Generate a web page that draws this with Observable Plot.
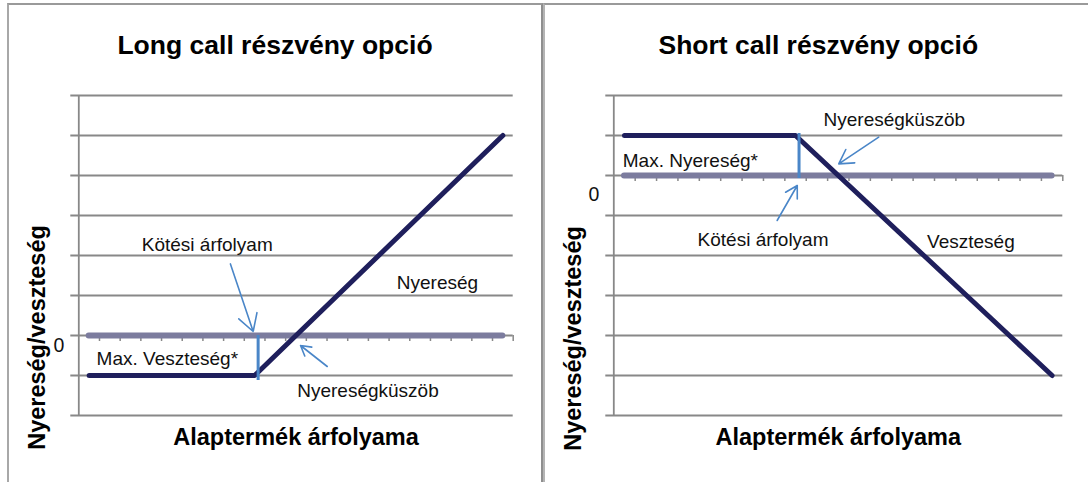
<!DOCTYPE html>
<html>
<head>
<meta charset="utf-8">
<script src="https://cdn.jsdelivr.net/npm/d3@7"></script>
<script src="https://cdn.jsdelivr.net/npm/@observablehq/plot@0.6"></script>
<style>
  html, body { margin: 0; padding: 0; background: #fff; }
  #wrap { position: relative; width: 1088px; height: 482px; overflow: hidden; background: #fff; }
  #wrap svg { position: absolute; top: 0; }
  .frame { position: absolute; box-sizing: border-box; pointer-events: none; }
</style>
</head>
<body>
<div id="wrap"></div>
<script>
// ---- data ----
const categories = [1, 2, 3, 4, 5, 6, 7, 8, 9, 10, 11, 12, 13, 14, 15, 16, 17, 18, 19, 20, 21];
const longCall  = [-1, -1, -1, -1, -1, -1, -1, -1, -1, -0.5, 0, 0.5, 1, 1.5, 2, 2.5, 3, 3.5, 4, 4.5, 5];
const shortCall = [1, 1, 1, 1, 1, 1, 1, 1, 1, 0.5, 0, -0.5, -1, -1.5, -2, -2.5, -3, -3.5, -4, -4.5, -5];
const strikeCategory = 9;
const yTicksLong  = [-2, -1, 0, 1, 2, 3, 4, 5, 6];
const yTicksShort = [-6, -5, -4, -3, -2, -1, 0, 1, 2];
const titleLong = "Long call részvény opció";
const titleShort = "Short call részvény opció";
const xLabel = "Alaptermék árfolyama";
const yLabel = "Nyereség/veszteség";
const zeroLabel = "0";
const notesLong = [
  {text: "Kötési árfolyam", x: 6.71, y: 2.11},
  {text: "Nyereség", x: 17.84, y: 1.17},
  {text: "Max. Veszteség*", x: 4.78, y: -0.73},
  {text: "Nyereségküszöb", x: 14.48, y: -1.54}
];
const notesShort = [
  {text: "Nyereségküszöb", x: 13.62, y: 1.25},
  {text: "Max. Nyereség*", x: 4.08, y: 0.21},
  {text: "Kötési árfolyam", x: 7.48, y: -1.75},
  {text: "Veszteség", x: 17.2, y: -1.81}
];
const arrowsLong = [
  {x1: 7.83, y1: 1.79, x2: 8.93, y2: 0.1},
  {x1: 12.51, y1: -0.775, x2: 11.22, y2: -0.25}
];
const arrowsShort = [
  {x1: 12.89, y1: 0.96, x2: 11.02, y2: 0.29},
  {x1: 8.14, y1: -1.125, x2: 9.08, y2: -0.25}
];

// ---- drawing ----
const GRID = "#888888";
const ZERO = "#7c7c9e";
const NAVY = "#1f1f5c";
const BLUE = "#4a86c8";

function panel(o) {
  const rows = categories.map((c, i) => ({c, v: o.values[i]}));
  const first = categories[0], last = categories[categories.length - 1];
  const lo = first - 0.5, hi = last + 0.5;
  const boundaries = categories.map(c => c + 0.5);
  const yMin = o.yTicks[0], yMax = o.yTicks[o.yTicks.length - 1];
  return Plot.plot({
    width: 544,
    height: 482,
    marginTop: 95,
    marginBottom: 67,
    marginLeft: o.marginLeft,
    marginRight: o.marginRight,
    style: {fontFamily: "'Liberation Sans', Arial, sans-serif", fontSize: "19px", background: "transparent", overflow: "visible", color: "#000"},
    x: {domain: [lo, hi], axis: null},
    y: {domain: [yMin, yMax], axis: null},
    marks: [
      Plot.ruleY(o.yTicks, {x1: lo, x2: hi, insetLeft: -8, stroke: GRID, strokeWidth: 1.8}),
      Plot.ruleX([lo], {y1: yMin, y2: yMax, stroke: GRID, strokeWidth: 1.8}),
      Plot.ruleX(boundaries, {y1: 0, y2: 0, insetBottom: -6, stroke: GRID, strokeWidth: 1.5}),
      Plot.ruleY([0], {x1: first, x2: last, stroke: ZERO, strokeWidth: 6, strokeLinecap: "round"}),
      Plot.line(rows, {x: "c", y: "v", stroke: NAVY, strokeWidth: 5, strokeLinecap: "round", strokeLinejoin: "round"}),
      Plot.ruleX([strikeCategory], {y1: o.strikeY[0], y2: o.strikeY[1], dx: 3.5, insetTop: o.strikeInset[0], insetBottom: o.strikeInset[1], stroke: BLUE, strokeWidth: 3}),
      Plot.arrow(o.arrows, {x1: "x1", y1: "y1", x2: "x2", y2: "y2", stroke: BLUE, strokeWidth: 1.6, headLength: 18, headAngle: 60}),
      Plot.text(o.notes, {x: "x", y: "y", text: "text", lineAnchor: "bottom", fontSize: 19, fill: "#111"}),
      Plot.text([zeroLabel], {x: lo, y: 0, text: d => d, dx: -20, dy: o.zeroDy, fontSize: 19.5, fill: "#111"}),
      Plot.text([o.title], {frameAnchor: "top", text: d => d, textAnchor: "middle", dx: o.titleDx, dy: -42, lineAnchor: "bottom", fontSize: 26.5, fontWeight: "bold", fill: "#000"}),
      Plot.text([xLabel], {frameAnchor: "bottom", text: d => d, textAnchor: "middle", dy: 29, lineAnchor: "bottom", fontSize: 23.5, fontWeight: "bold", fill: "#000"}),
      Plot.text([yLabel], {frameAnchor: "left", text: d => d, textAnchor: "middle", rotate: -90, dx: o.yLabelDx, dy: o.yLabelDy, lineAnchor: "bottom", fontSize: 23.5, fontWeight: "bold", fill: "#000"})
    ]
  });
}

const wrap = document.getElementById("wrap");

const left = panel({
  title: titleLong, values: longCall, yTicks: yTicksLong, notes: notesLong, arrows: arrowsLong,
  marginLeft: 78.3, marginRight: 31.3, strikeY: [0, -1], strikeInset: [0, -5],
  titleDx: -21, zeroDy: 10, yLabelDx: -34.3, yLabelDy: 82
});
left.style.left = "0px";
wrap.appendChild(left);

const right = panel({
  title: titleShort, values: shortCall, yTicks: yTicksShort, notes: notesShort, arrows: arrowsShort,
  marginLeft: 69.3, marginRight: 25.7, strikeY: [1, 0], strikeInset: [-2, -3],
  titleDx: -20, zeroDy: 19, yLabelDx: -33.3, yLabelDy: 83
});
right.style.left = "544px";
wrap.appendChild(right);

// panel frames
const f1 = document.createElement("div");
f1.className = "frame";
Object.assign(f1.style, {left: "7px", top: "3px", width: "536px", height: "600px",
  borderLeft: "2px solid #a8a8a8", borderTop: "2px solid #9a9a9a", borderRight: "2px solid #8f8f8f"});
wrap.appendChild(f1);
const f2 = document.createElement("div");
f2.className = "frame";
Object.assign(f2.style, {left: "543px", top: "3px", width: "600px", height: "600px",
  borderLeft: "2px solid #b4b4b4", borderTop: "2px solid #9a9a9a"});
wrap.appendChild(f2);
</script>
</body>
</html>
